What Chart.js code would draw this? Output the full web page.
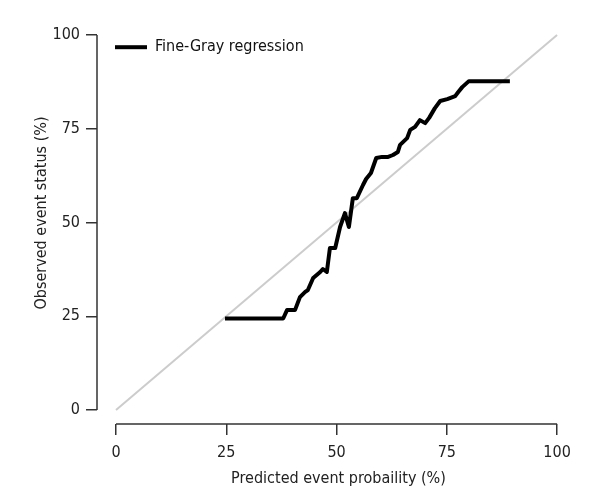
<!DOCTYPE html>
<html>
<head>
<meta charset="utf-8">
<script src="https://cdn.jsdelivr.net/npm/chart.js@4.4.1/dist/chart.umd.min.js"></script>
<style>
  html, body { margin: 0; padding: 0; background: #fff; }
</style>
</head>
<body>
<canvas id="calibChart" width="600" height="500"></canvas>
<script>
// calibration curve (%)
const predicted = [24.7, 37.9, 38.8, 40.6, 41.7, 42.9, 43.5, 44.7, 46.3, 46.9, 47.8, 48.5, 49.7, 50.8, 51.9, 52.8, 53.7, 54.6, 56.0, 56.7, 57.8, 59.0, 60.3, 61.7, 62.8, 63.9, 64.4, 66.0, 66.7, 67.8, 68.9, 70.1, 71.0, 72.3, 73.5, 75.1, 76.9, 77.6, 78.5, 80.0, 89.3];
const observed = [24.4, 24.4, 26.7, 26.7, 30.1, 31.5, 32.0, 35.2, 36.8, 37.6, 36.8, 43.2, 43.2, 48.8, 52.5, 48.8, 56.5, 56.5, 60.0, 61.6, 63.2, 67.2, 67.5, 67.5, 68.0, 68.8, 70.7, 72.5, 74.7, 75.5, 77.3, 76.5, 77.9, 80.5, 82.4, 82.9, 83.7, 84.8, 86.1, 87.7, 87.7];
const diagonal = [0, 100];
const tickValues = [0, 25, 50, 75, 100];
const seriesName = "Fine-Gray regression";

Chart.defaults.font.family = "'DejaVu Sans Condensed', 'Liberation Sans Narrow', sans-serif";
Chart.defaults.font.size = 16;
Chart.defaults.color = "#222";

// R style axes: the lines only span 0..100
const axisLines = {
  id: "axisLines",
  afterDraw(chart) {
    const { ctx, chartArea, scales } = chart;
    ctx.save();
    ctx.strokeStyle = "#333";
    ctx.lineWidth = 1.5;
    ctx.beginPath();
    ctx.moveTo(scales.x.getPixelForValue(0), chartArea.bottom);
    ctx.lineTo(scales.x.getPixelForValue(100), chartArea.bottom);
    ctx.moveTo(chartArea.left, scales.y.getPixelForValue(0));
    ctx.lineTo(chartArea.left, scales.y.getPixelForValue(100));
    ctx.stroke();
    ctx.restore();
  },
};

const setTicks = (scale) => {
  scale.ticks = tickValues.map((v) => ({ value: v }));
};

const ctx = document.getElementById("calibChart").getContext("2d");
new Chart(ctx, {
  type: "scatter",
  data: {
    datasets: [
      {
        label: seriesName,
        data: predicted.map((p, i) => ({ x: p, y: observed[i] })),
        showLine: true,
        borderColor: "#000",
        backgroundColor: "#000",
        borderWidth: 4,
        borderJoinStyle: "round",
        pointRadius: 0,
        tension: 0,
      },
      {
        label: "ideal",
        data: diagonal.map((v) => ({ x: v, y: v })),
        showLine: true,
        borderColor: "#cccccc",
        borderWidth: 2,
        pointRadius: 0,
      },
    ],
  },
  options: {
    responsive: false,
    animation: false,
    events: [],
    layout: { padding: { top: 2, right: 20, left: 0, bottom: 0 } },
    plugins: {
      tooltip: { enabled: false },
      legend: {
        position: "chartArea",
        align: "start",
        // empty title only pushes the legend item down
        title: { display: true, text: "", font: { size: 1 }, padding: { top: 20, bottom: 0 } },
        labels: {
          usePointStyle: true,
          pointStyle: "line",
          pointStyleWidth: 32,
          padding: 18,
          color: "#111",
          filter: (item) => item.datasetIndex === 0,
        },
      },
    },
    scales: {
      x: {
        type: "linear",
        min: -4.31,
        max: 105.2,
        afterBuildTicks: setTicks,
        afterFit: (s) => { s.height = 76; s.paddingLeft = 0; s.paddingRight = 0; },
        border: { display: false },
        grid: { drawOnChartArea: false, tickLength: 11, color: "#333", lineWidth: 1.5 },
        ticks: { padding: 8, autoSkip: false, maxRotation: 0 },
        title: { display: true, text: "Predicted event probaility (%)", padding: { top: 0, bottom: 12 } },
      },
      y: {
        type: "linear",
        min: -3.73,
        max: 108.8,
        afterBuildTicks: setTicks,
        afterFit: (s) => { s.width = 97; s.paddingTop = 0; s.paddingBottom = 0; },
        border: { display: false },
        grid: { drawOnChartArea: false, tickLength: 11, color: "#333", lineWidth: 1.5 },
        ticks: { padding: 6, autoSkip: false },
        title: { display: true, text: "Observed event status (%)", padding: { top: 32, bottom: 0 } },
      },
    },
  },
  plugins: [axisLines],
});
</script>
</body>
</html>
